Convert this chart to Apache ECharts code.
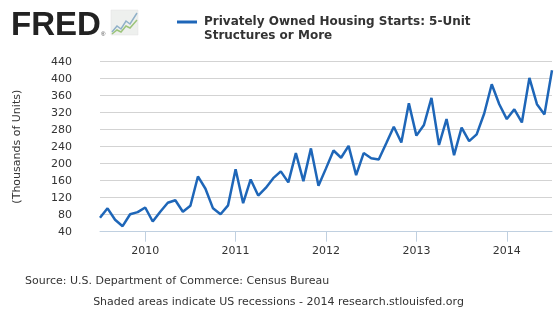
<!DOCTYPE html>
<html>
<head>
<meta charset="utf-8">
<script src="https://cdn.jsdelivr.net/npm/echarts@6/dist/echarts.min.js"></script>
<style>
html,body{margin:0;padding:0;background:#fff;}
#chart{width:557px;height:327px;}
</style>
</head>
<body>
<div id="chart"></div>
<script>
// Monthly series, Jul 2009 - Jul 2014 (thousands of units, SAAR)
var startYear = 2009, startMonth = 7;
var values = [
  73, 95, 68, 53, 81, 86,
  97, 64, 87, 108, 114, 87, 101, 170, 141, 95, 81, 102,
  187, 107, 163, 125, 143, 166, 182, 156, 225, 159, 236, 148,
  189, 231, 214, 242, 173, 225, 213, 210, 248, 287, 250, 342,
  266, 291, 355, 244, 305, 220, 285, 253, 269, 318, 387, 340,
  305, 328, 297, 402, 340, 316, 420
];
var yTicks = [40, 80, 120, 160, 200, 240, 280, 320, 360, 400, 440];
var seriesName = 'Privately Owned Housing Starts: 5-Unit\nStructures or More';
var yAxisTitle = '(Thousands of Units)';
var sourceText = 'Source: U.S. Department of Commerce: Census Bureau';
var noteText = 'Shaded areas indicate US recessions - 2014 research.stlouisfed.org';

var categories = [];
for (var i = 0; i < values.length; i++) {
  var m = startMonth - 1 + i;
  var y = startYear + Math.floor(m / 12);
  var mm = (m % 12) + 1;
  categories.push(y + '-' + (mm < 10 ? '0' + mm : mm));
}
function isJan(idx) { return categories[idx].slice(5) === '01'; }

var chart = echarts.init(document.getElementById('chart'), null, {renderer: 'canvas'});
var font = '"DejaVu Sans", Verdana, sans-serif';
chart.setOption({
  animation: false,
  backgroundColor: '#ffffff',
  grid: {left: 100, right: 5, top: 61.7, bottom: 95.3},
  title: {
    text: seriesName,
    left: 199, top: 10,
    textStyle: {fontFamily: font, fontSize: 12, fontWeight: 'bold', color: '#333', lineHeight: 14}
  },
  xAxis: {
    type: 'category',
    data: categories,
    boundaryGap: false,
    axisLine: {lineStyle: {color: '#c0d0e0', width: 1}},
    axisTick: {show: true, length: 10, interval: function (idx) { return isJan(idx); }, lineStyle: {color: '#c0d0e0'}},
    axisLabel: {
      interval: function (idx) { return isJan(idx); },
      formatter: function (v) { return v.slice(0, 4); },
      margin: 14, color: '#333', fontFamily: font, fontSize: 11
    },
    splitLine: {show: false}
  },
  yAxis: {
    type: 'value',
    min: yTicks[0], max: yTicks[yTicks.length - 1], interval: 40,
    name: yAxisTitle, nameLocation: 'middle', nameGap: 77, nameRotate: 90,
    nameTextStyle: {fontFamily: font, fontSize: 11, color: '#333'},
    axisLine: {show: false}, axisTick: {show: false},
    axisLabel: {margin: 28, color: '#333', fontFamily: font, fontSize: 11},
    splitLine: {lineStyle: {color: '#d3d3d3', width: 1}}
  },
  series: [{
    type: 'line',
    name: seriesName,
    data: values,
    showSymbol: false,
    lineStyle: {color: '#1e66b8', width: 2.5},
    itemStyle: {color: '#1e66b8'}
  }],
  graphic: [
    {type: 'line', shape: {x1: 177, y1: 22, x2: 197, y2: 22}, style: {stroke: '#1e66b8', lineWidth: 3}},
    {type: 'text', left: 11, top: 9, style: {text: 'FRED', font: 'bold 33px "Liberation Sans", Arial, sans-serif', fill: '#222', letterSpacing: -1}},
    {type: 'text', left: 101, top: 31, style: {text: '®', font: '6px "Liberation Sans", Arial, sans-serif', fill: '#444'}},
    {type: 'rect', shape: {x: 111, y: 10, width: 27, height: 25}, style: {fill: '#eef0ee', stroke: '#e0e0e0', lineWidth: 0.5}},
    {type: 'polyline', shape: {points: [[112, 32], [117, 26], [121, 29], [126, 21], [130, 24], [137, 13]]}, style: {stroke: '#8fb0c8', lineWidth: 1.5, fill: null}},
    {type: 'polyline', shape: {points: [[112, 34], [117, 30], [121, 32], [126, 26], [130, 28], [137, 20]]}, style: {stroke: '#9cc47a', lineWidth: 1.5, fill: null}},
    {type: 'text', left: 25, top: 276, style: {text: sourceText, font: '11px ' + font, fill: '#333'}},
    {type: 'text', left: 'center', top: 297, style: {text: noteText, font: '11px ' + font, fill: '#333'}}
  ]
});
</script>
</body>
</html>
